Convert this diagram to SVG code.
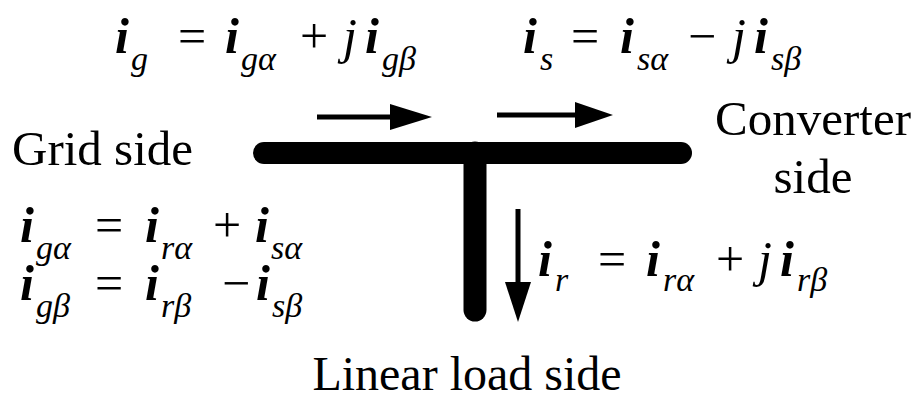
<svg xmlns="http://www.w3.org/2000/svg" width="919" height="401" viewBox="0 0 919 401">
<rect width="919" height="401" fill="#fff"/>
<g id="bus" stroke="#000" stroke-linecap="round" fill="none">
<line x1="264" y1="153" x2="681" y2="153" stroke-width="22"/>
<line x1="475" y1="153" x2="475" y2="310" stroke-width="23"/>
</g>
<g id="connectors" stroke-width="5">
<line stroke="#000" x1="317" y1="117" x2="393" y2="117"/>
<polygon fill="#000" points="390,104 432,117 390,130"/>
<line stroke="#000" x1="497" y1="115" x2="578" y2="115"/>
<polygon fill="#000" points="575,102 613,115 575,128"/>
<line stroke="#000" x1="518" y1="209" x2="518" y2="285"/>
<polygon fill="#000" points="505,282 518,322 531,282"/>
</g>
<g font-family="Liberation Serif, serif" fill="#000">
<g id="grid-side" font-size="49"><text x="12" y="165">Grid side</text></g>
<g id="converter-side" font-size="49" text-anchor="middle">
<text x="813" y="135">Converter</text>
<text x="813" y="193">side</text>
</g>
<g id="load-side" font-size="48" text-anchor="middle"><text x="467" y="390">Linear load side</text></g>
<g id="eq-ig" font-size="50">
<text x="115" y="53" font-style="italic" font-weight="bold">i</text><text x="131" y="70" font-size="34" font-style="italic">g</text>
<text x="178" y="53">=</text>
<text x="225" y="53" font-style="italic" font-weight="bold">i</text><text x="241" y="70" font-size="34" font-style="italic">gα</text>
<text x="300" y="53">+</text>
<text x="343" y="53" font-style="italic">j</text><text x="365" y="53" font-style="italic" font-weight="bold">i</text><text x="382" y="70" font-size="34" font-style="italic">gβ</text>
</g>
<g id="eq-is" font-size="50">
<text x="523" y="53" font-style="italic" font-weight="bold">i</text><text x="540" y="70" font-size="34" font-style="italic">s</text>
<text x="571" y="53">=</text>
<text x="620" y="53" font-style="italic" font-weight="bold">i</text><text x="637" y="70" font-size="34" font-style="italic">sα</text>
<text x="688" y="53">−</text>
<text x="732" y="53" font-style="italic">j</text><text x="754" y="53" font-style="italic" font-weight="bold">i</text><text x="771" y="70" font-size="34" font-style="italic">sβ</text>
</g>
<g id="eq-alpha" font-size="50">
<text x="20" y="242" font-style="italic" font-weight="bold">i</text><text x="36" y="259" font-size="34" font-style="italic">gα</text>
<text x="95" y="242">=</text>
<text x="145" y="242" font-style="italic" font-weight="bold">i</text><text x="161" y="259" font-size="34" font-style="italic">rα</text>
<text x="213" y="242">+</text>
<text x="255" y="242" font-style="italic" font-weight="bold">i</text><text x="271" y="259" font-size="34" font-style="italic">sα</text>
</g>
<g id="eq-beta" font-size="50">
<text x="20" y="300" font-style="italic" font-weight="bold">i</text><text x="36" y="317" font-size="34" font-style="italic">gβ</text>
<text x="95" y="300">=</text>
<text x="145" y="300" font-style="italic" font-weight="bold">i</text><text x="161" y="317" font-size="34" font-style="italic">rβ</text>
<text x="222" y="300">−</text>
<text x="256" y="300" font-style="italic" font-weight="bold">i</text><text x="272" y="317" font-size="34" font-style="italic">sβ</text>
</g>
<g id="eq-ir" font-size="50">
<text x="538" y="276" font-style="italic" font-weight="bold">i</text><text x="555" y="291" font-size="34" font-style="italic">r</text>
<text x="598" y="276">=</text>
<text x="646" y="276" font-style="italic" font-weight="bold">i</text><text x="663" y="291" font-size="34" font-style="italic">rα</text>
<text x="716" y="276">+</text>
<text x="758" y="276" font-style="italic">j</text><text x="780" y="276" font-style="italic" font-weight="bold">i</text><text x="797" y="291" font-size="34" font-style="italic">rβ</text>
</g>
</g>
</svg>
